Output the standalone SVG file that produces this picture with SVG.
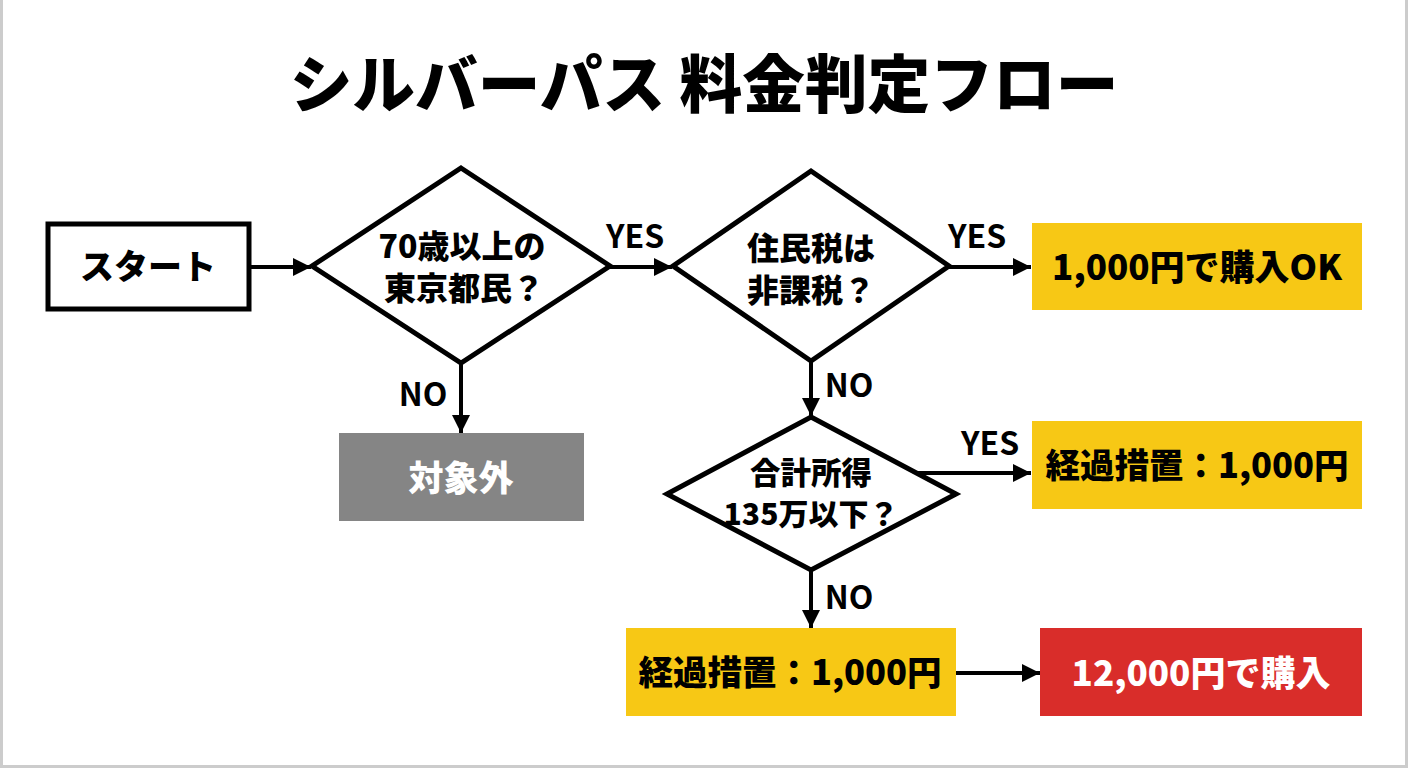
<svg xmlns="http://www.w3.org/2000/svg" width="1408" height="768" viewBox="0 0 1408 768">
<defs><marker id="a" markerUnits="userSpaceOnUse" markerWidth="18" markerHeight="20" refX="18" refY="10" orient="auto"><path d="M0 1L18 10L0 19Z" fill="#000"/></marker></defs>
<style>
text{font-family:"Noto Sans CJK JP","Noto Sans",sans-serif;font-weight:900;text-anchor:middle;fill:#000}
.d{fill:#fff;stroke:#000;stroke-width:5;stroke-linejoin:miter}
.y{fill:#f7c815}
.c{font-size:32px;font-weight:700}
#conn path{fill:none;stroke:#000;stroke-width:4;marker-end:url(#a)}
</style>
<rect width="1408" height="768" fill="#fff"/>
<rect x="1.500" y="-2" width="1405" height="768.500" fill="none" stroke="#ccc" stroke-width="3"/>
<text x="704" y="107" font-size="62.700" id="title">シルバーパス 料金判定フロー</text>
<g id="conn">
<path d="M250 267H311"/><path d="M610 267H672"/><path d="M949 267H1031"/><path d="M461 362V433"/><path d="M811 361V416"/><path d="M915 473H1031"/><path d="M811 570V628"/><path d="M956 673H1040"/>
<g><text class="c" x="635" y="248">YES</text><text class="c" x="977" y="248">YES</text><text class="c" x="990" y="455">YES</text><text class="c" x="423" y="406">NO</text><text class="c" x="849" y="397">NO</text><text class="c" x="849" y="609">NO</text></g>
</g>
<g id="start"><rect x="48" y="224" width="201" height="85" fill="#fff" stroke="#000" stroke-width="5"/><text x="148" y="279" font-size="34">スタート</text></g>
<g id="d1"><path class="d" d="M461 168L610 266L461 363L312 266Z"/><text x="462" y="258" font-size="32">70歳以上の</text><text x="464" y="300" font-size="32">東京都民？</text></g>
<g id="d2"><path class="d" d="M811 171L949 266L811 361L673 266Z"/><text x="811" y="260" font-size="32">住民税は</text><text x="811" y="302" font-size="32">非課税？</text></g>
<g id="d3"><path class="d" d="M811 417L956 494L811 570L667 494Z"/><text x="811" y="484" font-size="30.500">合計所得</text><text x="811" y="525" font-size="30">135万以下？</text></g>
<g id="r1"><rect class="y" x="1032" y="223" width="330" height="87"/><text x="1197" y="280" font-size="35">1,000円で購入OK</text></g>
<g id="r2"><rect class="y" x="1032" y="421" width="330" height="88"/><text x="1197" y="478" font-size="34.500">経過措置：1,000円</text></g>
<g id="r3"><rect class="y" x="626" y="628" width="330" height="88"/><text x="790" y="685" font-size="34.500">経過措置：1,000円</text></g>
<g id="r4"><rect x="1040" y="628" width="322" height="88" fill="#d92d2a"/><text x="1201" y="686" font-size="35" style="fill:#fff">12,000円で購入</text></g>
<g id="out"><rect x="339" y="433" width="245" height="88" fill="#858585"/><text x="461" y="491" font-size="35" style="fill:#fff">対象外</text></g>
</svg>
